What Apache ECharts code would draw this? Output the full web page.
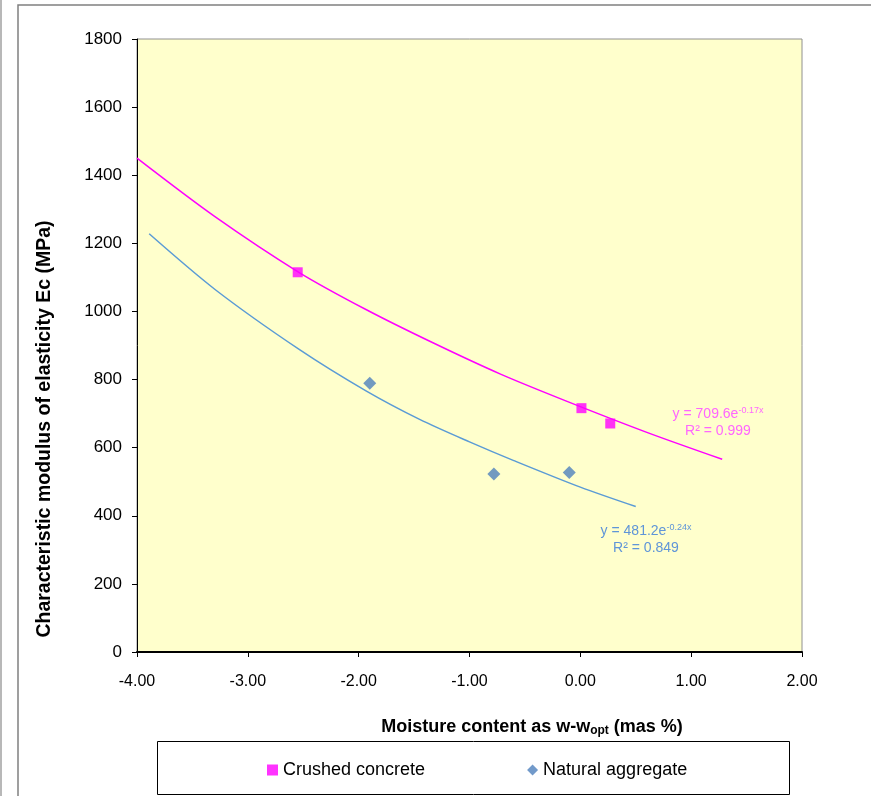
<!DOCTYPE html>
<html>
<head>
<meta charset="utf-8">
<title>Characteristic modulus vs moisture content</title>
<script src="https://cdn.jsdelivr.net/npm/echarts@6/dist/echarts.min.js"></script>
<style>
  html, body { margin: 0; padding: 0; background: #ffffff; }
  #chart { width: 871px; height: 796px; }
</style>
</head>
<body>
<div id="chart"></div>
<script>
// Measured points: moisture offset w - w_opt (mas %) and modulus Ec (MPa)
const crushedX = [-2.55, 0.01, 0.27];
const crushedY = [1115, 716, 671];
const naturalX = [-1.90, -0.78, -0.10];
const naturalY = [789, 523, 527];

// Exponential trendlines, sampled along each fitted curve
const crushedTrendX = [-4.00, -3.30, -2.54, -1.93, -1.33, -0.72, -0.12, 0.60, 1.28];
const crushedTrendY = [1450, 1279, 1115, 1005, 908, 816, 736, 645, 566];
const naturalTrendX = [-3.89, -3.29, -2.53, -1.93, -1.45, -1.00, -0.60, 0.00, 0.50];
const naturalTrendY = [1228, 1063, 887, 766, 683, 617, 562, 484, 427];

// Axis ranges and ticks
const xMin = -4, xMax = 2, xStep = 1;
const yMin = 0, yMax = 1800, yStep = 200;

// Series names and fit annotations
const seriesNames = ['Crushed concrete', 'Natural aggregate'];
const crushedFit = { coef: '709.6', exp: '-0.17x', r2: '0.999' };
const naturalFit = { coef: '481.2', exp: '-0.24x', r2: '0.849' };

const zip = (xs, ys) => xs.map((x, i) => [x, ys[i]]);

const FONT = '"Liberation Sans", Arial, sans-serif';
const PINK = '#ff00ff';
const PINK_TXT = '#ff66ff';
const BLUE_LINE = '#5b9bd5';
const BLUE_MARK = '#4f81bd';
const BLUE_TXT = '#5f95d8';

function fitLabel(x, y, fit, color) {
  return {
    type: 'text',
    x: x,
    y: y,
    z: 10,
    style: {
      text: '{m|y = ' + fit.coef + 'e}{s|' + fit.exp + '}\n{r|R² = ' + fit.r2 + '}',
      fill: color,
      align: 'center',
      verticalAlign: 'top',
      rich: {
        m: { fontSize: 14, fontFamily: FONT, fill: color, lineHeight: 17 },
        s: { fontSize: 9, fontFamily: FONT, fill: color, lineHeight: 17, verticalAlign: 'top', padding: [0, 0, 6, 0] },
        r: { fontSize: 14, fontFamily: FONT, fill: color, lineHeight: 17 }
      }
    }
  };
}

const chart = echarts.init(document.getElementById('chart'), null, { renderer: 'canvas' });

chart.setOption({
  backgroundColor: '#ffffff',
  animation: false,
  grid: {
    left: 137, right: 69, top: 39, bottom: 144,
    show: true,
    backgroundColor: '#ffffcc',
    borderColor: '#909090',
    borderWidth: 1
  },
  xAxis: {
    type: 'value',
    min: xMin, max: xMax, interval: xStep,
    axisLine: { show: true, onZero: false, lineStyle: { color: '#000', width: 2 } },
    axisTick: { show: true, inside: false, length: 5, lineStyle: { color: '#000' } },
    splitLine: { show: false },
    axisLabel: {
      margin: 22,
      color: '#000',
      fontSize: 16,
      fontFamily: FONT,
      formatter: v => v.toFixed(2)
    }
  },
  yAxis: {
    type: 'value',
    min: yMin, max: yMax, interval: yStep,
    axisLine: { show: true, onZero: false, lineStyle: { color: '#000', width: 1 } },
    axisTick: { show: true, inside: false, length: 5, lineStyle: { color: '#000' } },
    splitLine: { show: false },
    axisLabel: {
      margin: 15,
      color: '#000',
      fontSize: 17,
      fontFamily: FONT,
      formatter: v => String(v)
    }
  },
  legend: {
    show: true,
    data: [
      { name: seriesNames[0], icon: 'rect' },
      { name: seriesNames[1], icon: 'diamond' }
    ],
    left: 262,
    top: 756,
    itemWidth: 11,
    itemHeight: 11,
    itemGap: 102,
    textStyle: { fontSize: 18, fontFamily: FONT, color: '#000' }
  },
  series: [
    {
      name: 'crushed-trend',
      type: 'line',
      data: zip(crushedTrendX, crushedTrendY),
      smooth: 0.3,
      showSymbol: false,
      silent: true,
      lineStyle: { color: PINK, width: 1.5 },
      z: 2
    },
    {
      name: 'natural-trend',
      type: 'line',
      data: zip(naturalTrendX, naturalTrendY),
      smooth: 0.3,
      showSymbol: false,
      silent: true,
      lineStyle: { color: BLUE_LINE, width: 1.5 },
      z: 2
    },
    {
      name: seriesNames[0],
      type: 'scatter',
      data: zip(crushedX, crushedY),
      symbol: 'rect',
      symbolSize: 10,
      itemStyle: { color: PINK },
      z: 3
    },
    {
      name: seriesNames[1],
      type: 'scatter',
      data: zip(naturalX, naturalY),
      symbol: 'diamond',
      symbolSize: 13,
      itemStyle: { color: BLUE_MARK },
      z: 3
    }
  ],
  graphic: [
    // outer chart frame
    {
      type: 'polyline',
      shape: { points: [[18, 796], [18, 5], [871, 5]] },
      style: { stroke: '#808080', lineWidth: 1.5, fill: null },
      silent: true
    },
    {
      type: 'line',
      shape: { x1: 1, y1: 0, x2: 1, y2: 796 },
      style: { stroke: '#a0a0a0', lineWidth: 1.5 },
      silent: true
    },
    // legend frame
    {
      type: 'rect',
      shape: { x: 157.5, y: 741.5, width: 632, height: 53 },
      style: { stroke: '#000', lineWidth: 1, fill: '#fff' },
      z: -1,
      silent: true
    },
    // y axis title
    {
      type: 'text',
      x: 45,
      y: 429,
      rotation: Math.PI / 2,
      style: {
        text: 'Characteristic modulus of elasticity Ec (MPa)',
        fontSize: 19.5,
        fontWeight: 'bold',
        fontFamily: FONT,
        fill: '#000',
        align: 'center',
        verticalAlign: 'middle'
      }
    },
    // x axis title with subscript
    {
      type: 'text',
      x: 532,
      y: 727,
      style: {
        text: '{b|Moisture content as w-w}{sub|opt}{b| (mas %)}',
        align: 'center',
        verticalAlign: 'middle',
        rich: {
          b: { fontSize: 18, fontWeight: 'bold', fontFamily: FONT, fill: '#000', lineHeight: 20 },
          sub: { fontSize: 12, fontWeight: 'bold', fontFamily: FONT, fill: '#000', lineHeight: 20, verticalAlign: 'bottom', padding: [6, 0, 0, 0] }
        }
      }
    },
    fitLabel(718, 406, crushedFit, PINK_TXT),
    fitLabel(646, 523, naturalFit, BLUE_TXT)
  ]
});
</script>
</body>
</html>
